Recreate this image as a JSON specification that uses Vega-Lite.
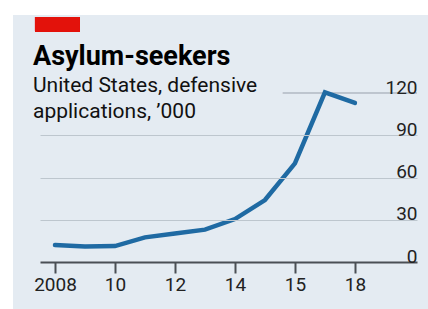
{
  "$schema": "https://vega.github.io/schema/vega-lite/v6.json",
  "width": 377,
  "height": 176,
  "autosize": "none",
  "padding": {"left": 40, "top": 86, "right": 11, "bottom": 47},
  "background": "white",
  "config": {
    "view": {"stroke": null},
    "font": "Roboto",
    "axisX": {
      "grid": false,
      "domainColor": "#4a4f55",
      "domainWidth": 2,
      "tickColor": "#4a4f55",
      "tickWidth": 2,
      "tickSize": 11,
      "labelPadding": 2,
      "labelDx": -3,
      "labelFont": "Roboto",
      "labelFontSize": 19,
      "labelColor": "#222222",
      "labelFlush": false,
      "labelOverlap": false
    },
    "axisY": {
      "grid": true,
      "gridColor": "#bdc6ce",
      "gridWidth": 1,
      "domain": false,
      "ticks": false,
      "labelAlign": "right",
      "labelBaseline": "alphabetic",
      "labelPadding": 0,
      "labelDx": -4,
      "labelDy": -4,
      "labelFont": "Roboto",
      "labelFontSize": 19,
      "labelColor": "#222222",
      "labelOverlap": false
    }
  },
  "title": {
    "text": "Asylum-seekers",
    "subtitle": ["United States, defensive", "applications, ’000"],
    "anchor": "start",
    "frame": "group",
    "orient": "top",
    "dx": -7,
    "offset": -108,
    "font": "Roboto",
    "fontSize": 27,
    "fontWeight": "bold",
    "color": "#000000",
    "subtitleFont": "Roboto",
    "subtitleFontSize": 21,
    "subtitleColor": "#111111",
    "subtitleLineHeight": 26,
    "subtitlePadding": 4
  },
  "data": {
    "values": [
      {"year": 2008, "value": 12},
      {"year": 2009, "value": 11},
      {"year": 2010, "value": 11.3},
      {"year": 2011, "value": 17.5},
      {"year": 2012, "value": 20.3},
      {"year": 2013, "value": 23},
      {"year": 2014, "value": 30.5},
      {"year": 2015, "value": 44},
      {"year": 2016, "value": 70},
      {"year": 2017, "value": 120.5},
      {"year": 2018, "value": 113}
    ]
  },
  "layer": [
    {
      "mark": {"type": "rect", "color": "#e4ebf2", "clip": false},
      "encoding": {
        "x": {
          "datum": 2006.6,
          "type": "quantitative",
          "scale": {"domain": [2007.5, 2020.07], "nice": false},
          "title": null,
          "axis": {
            "orient": "bottom",
            "title": null,
            "zindex": 1,
            "values": [2008, 2010, 2012, 2014, 2016, 2018],
            "labelExpr": "datum.value == 2008 ? '2008' : datum.value == 2016 ? '15' : substring(toString(datum.value), 2)"
          }
        },
        "x2": {"datum": 2020.6},
        "y": {
          "datum": 175.4,
          "type": "quantitative",
          "scale": {"domain": [0, 125], "nice": false},
          "title": null,
          "axis": {
            "orient": "right",
            "title": null,
            "zindex": 1,
            "values": [0, 30, 60, 90, 120],
            "gridOpacity": {"condition": {"test": "datum.value == 0 || datum.value == 120", "value": 0}, "value": 1}
          }
        },
        "y2": {"datum": -33}
      }
    },
    {
      "mark": {"type": "rect", "color": "#e3120b", "clip": false},
      "encoding": {
        "x": {"datum": 2007.333, "type": "quantitative"},
        "x2": {"datum": 2008.833},
        "y": {"datum": 174, "type": "quantitative"},
        "y2": {"datum": 163.5}
      }
    },
    {
      "mark": {"type": "rule", "color": "#bdc6ce", "strokeWidth": 1},
      "encoding": {
        "x": {"datum": 2015.6, "type": "quantitative"},
        "x2": {"datum": 2020.07},
        "y": {"datum": 120, "type": "quantitative"}
      }
    },
    {
      "mark": {"type": "line", "color": "#1f6aa3", "strokeWidth": 4.5, "strokeCap": "round", "zindex": 2},
      "encoding": {
        "x": {"field": "year", "type": "quantitative"},
        "y": {"field": "value", "type": "quantitative"}
      }
    }
  ]
}
